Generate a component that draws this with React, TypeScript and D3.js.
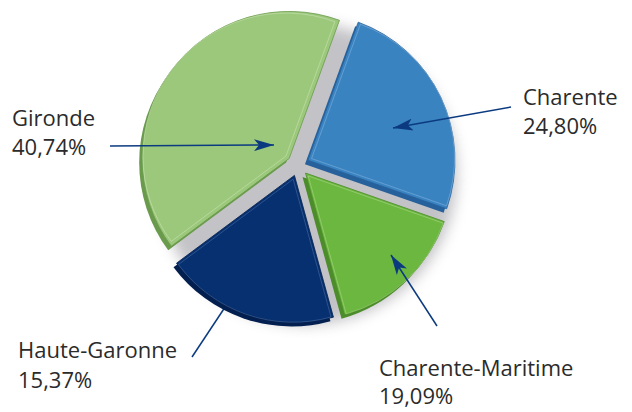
import React, { useEffect, useRef } from 'react';
import * as d3 from 'd3';

// labels as printed on the chart
const categories = ['Charente', 'Charente-Maritime', 'Haute-Garonne', 'Gironde'];
const percentLabels = ['24,80%', '19,09%', '15,37%', '40,74%'];

// wedges in drawing order (clockwise from ~20deg). The picture draws the
// mid-green wedge smaller than the navy one, so the shares follow the picture.
const sliceShares = [24.8, 15.37, 19.09, 40.74];
const sliceColors = ['#3a83c1', '#6cb740', '#06306f', '#9cc87b'];
const sliceEdges = ['#27619c', '#4d8c2b', '#031f4f', '#6a9a4c'];
const sliceLights = ['#7fb0dc', '#a6d884', '#4a6aa2', '#c8e3b2'];

export default function App() {
  const chartRef = useRef<SVGSVGElement>(null);

  useEffect(() => {
    const width = 632;
    const height = 412;
    const cx = 298;
    const cy = 165;
    const radius = 147;
    const explode = 11;

    document.body.style.margin = '0';

    const svg = d3.select(chartRef.current);
    svg.selectAll('*').remove();
    svg.attr('width', width).attr('height', height);

    const defs = svg.append('defs');
    defs.append('filter')
      .attr('id', 'blur')
      .attr('x', '-20%').attr('y', '-20%')
      .attr('width', '140%').attr('height', '140%')
      .append('feGaussianBlur')
      .attr('stdDeviation', 7);

    const marker = defs.append('marker')
      .attr('id', 'head')
      .attr('viewBox', '0 0 20 12')
      .attr('refX', 20)
      .attr('refY', 6)
      .attr('markerWidth', 20)
      .attr('markerHeight', 12)
      .attr('markerUnits', 'userSpaceOnUse')
      .attr('orient', 'auto');
    marker.append('path')
      .attr('d', 'M0,0 L20,6 L0,12 L5,6 Z')
      .attr('fill', '#0b3a80');

    const start = (20 * Math.PI) / 180;
    const pie = d3.pie<number>()
      .sort(null)
      .startAngle(start)
      .endAngle(start + 2 * Math.PI)
      .value(d => d);

    const arcs = pie(sliceShares);
    const arc = d3.arc<d3.PieArcDatum<number>>().innerRadius(0).outerRadius(radius);
    const inner = d3.arc<d3.PieArcDatum<number>>().innerRadius(0).outerRadius(radius - 4);

    // callout arrows; the Haute-Garonne one runs under its navy wedge
    const arrows = [
      { x1: 511, y1: 107, x2: 393, y2: 128, under: false },
      { x1: 437, y1: 326, x2: 391, y2: 255, under: false },
      { x1: 192, y1: 357, x2: 249, y2: 271, under: true },
      { x1: 110, y1: 146, x2: 274, y2: 145, under: false },
    ];
    const drawArrows = (list: typeof arrows) => {
      svg.append('g')
        .selectAll('line')
        .data(list)
        .enter()
        .append('line')
        .attr('x1', d => d.x1)
        .attr('y1', d => d.y1)
        .attr('x2', d => d.x2)
        .attr('y2', d => d.y2)
        .attr('stroke', '#0b3a80')
        .attr('stroke-width', 1.5)
        .attr('marker-end', 'url(#head)');
    };

    drawArrows(arrows.filter(a => a.under));

    const g = svg.append('g').attr('transform', `translate(${cx},${cy})`);

    // soft shadow under the whole pie, it also greys the gaps
    g.append('circle')
      .attr('cx', 8)
      .attr('cy', 9)
      .attr('r', radius + 4)
      .attr('fill', '#a4a4aa')
      .attr('opacity', 0.65)
      .attr('filter', 'url(#blur)');

    const offset = (d: d3.PieArcDatum<number>, k: number) => {
      const mid = (d.startAngle + d.endAngle) / 2;
      return [Math.sin(mid) * k, -Math.cos(mid) * k];
    };

    const slices = g.selectAll('g.slice')
      .data(arcs)
      .enter()
      .append('g')
      .attr('class', 'slice')
      .attr('transform', d => {
        const [dx, dy] = offset(d, explode);
        return `translate(${dx},${dy})`;
      });

    // extruded side
    slices.append('path')
      .attr('d', arc)
      .attr('transform', 'translate(-3,4)')
      .attr('fill', (d, i) => sliceEdges[i]);

    slices.append('path')
      .attr('d', arc)
      .attr('fill', (d, i) => sliceColors[i])
      .attr('stroke', (d, i) => sliceEdges[i])
      .attr('stroke-width', 0.8);

    // thin bevel highlight
    slices.append('path')
      .attr('d', inner)
      .attr('transform', d => {
        const [dx, dy] = offset(d, 4);
        return `translate(${dx},${dy})`;
      })
      .attr('fill', 'none')
      .attr('stroke', (d, i) => sliceLights[i])
      .attr('stroke-width', 1)
      .attr('opacity', 0.6);

    drawArrows(arrows.filter(a => !a.under));

    const labelPos = [
      { x: 523, y: 105, dy: 29 },
      { x: 379, y: 376, dy: 28 },
      { x: 18, y: 358, dy: 30 },
      { x: 12, y: 126, dy: 29 },
    ];
    const labels = svg.selectAll('text.label')
      .data(categories)
      .enter()
      .append('text')
      .attr('class', 'label')
      .attr('x', (d, i) => labelPos[i].x)
      .attr('y', (d, i) => labelPos[i].y)
      .attr('font-family', '"Open Sans", "Noto Sans", sans-serif')
      .attr('font-size', 22)
      .attr('fill', '#2b2b2b');
    labels.append('tspan').text(d => d);
    labels.append('tspan')
      .attr('x', (d, i) => labelPos[i].x)
      .attr('dy', (d, i) => labelPos[i].dy)
      .text((d, i) => percentLabels[i]);
  }, []);

  return <svg ref={chartRef} style={{ display: 'block' }} />;
}
